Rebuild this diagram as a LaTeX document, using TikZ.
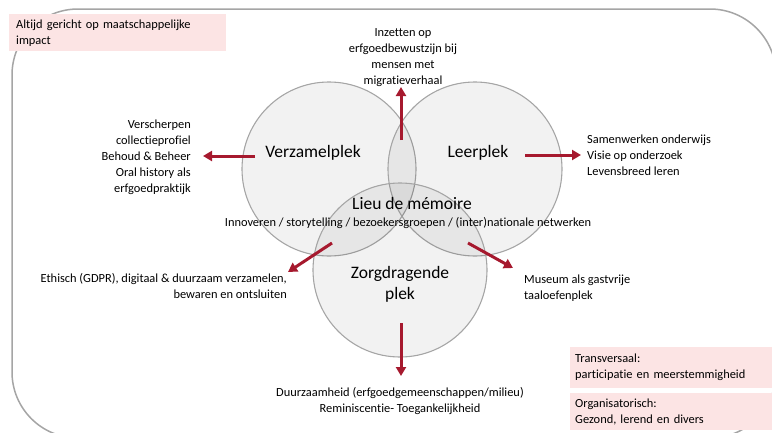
\documentclass[tikz,border=0pt]{standalone}
\usepackage{fontspec}
\setmainfont{Carlito}[Ligatures=NoCommon]
\frenchspacing
\usetikzlibrary{arrows.meta}
\definecolor{arrowred}{RGB}{166,25,46}
\definecolor{pinkfill}{RGB}{252,228,228}
\definecolor{rimgray}{RGB}{165,165,165}
\tikzset{
  small/.style={font=\fontsize{12.4}{16}\selectfont, inner sep=0pt},
  big/.style={font=\fontsize{17.5}{21}\selectfont, inner sep=0pt, align=center},
  venn/.style={circle, draw=rimgray, line width=1.1pt, fill=black, fill opacity=0.05, draw opacity=1, minimum size=174pt, inner sep=0pt},
  redarrow/.style={draw=arrowred, line width=3pt, -{Triangle[length=9pt,width=10pt]}},
  pinkbox/.style={fill=pinkfill, anchor=north west, inner xsep=7pt, inner ysep=0pt, align=left, font=\fontsize{12.4}{16}\selectfont},
}
\begin{document}
\begin{tikzpicture}[x=1pt,y=-1pt]
\useasboundingbox (0,0) rectangle (772,432);
% outer frame
\draw[rimgray, line width=1.5pt, rounded corners=66pt] (12,9) rectangle (776,438);
% pink boxes
\node[pinkbox, text width=203pt, minimum height=37pt] (impact) at (9,14) {Altijd gericht op maatschappelijke\\impact};
\node[pinkbox, inner xsep=5pt, text width=192pt, minimum height=41pt] (trans) at (570,347) {Transversaal:\\participatie en meerstemmigheid};
\node[pinkbox, inner xsep=5pt, text width=192pt, minimum height=37pt] (org) at (570,393) {Organisatorisch:\\Gezond, lerend en divers};
% circles
\node[venn] (cV) at (329,169) {};
\node[venn] (cL) at (475,169) {};
\node[venn] (cZ) at (400,270) {};
% circle labels
\node[big] (tV) at (313,153) {Verzamelplek};
\node[big] (tL) at (478,153) {Leerplek};
\node[big] (tZ) at (400,284) {Zorgdragende\\plek};
\node[big] (tM) at (412,203) {Lieu de mémoire};
\node[small] (tSub) at (408,223) {Innoveren / storytelling / bezoekersgroepen / (inter)nationale netwerken};
% outer texts
\node[small, align=center] (top) at (403,58) {Inzetten op\\erfgoedbewustzijn bij\\mensen met\\migratieverhaal};
\node[small, align=right, anchor=east] (left) at (191,157) {Verscherpen\\collectieprofiel\\Behoud \& Beheer\\Oral history als\\erfgoedpraktijk};
\node[small, align=left, anchor=west] (right) at (587,155) {Samenwerken onderwijs\\Visie op onderzoek\\Levensbreed leren};
\node[small, align=right, anchor=east] (ll) at (287,286) {Ethisch (GDPR), digitaal \& duurzaam verzamelen,\\bewaren en ontsluiten};
\node[small, align=left, anchor=west] (lr) at (524,288) {Museum als gastvrije\\taaloefenplek};
\node[small, align=center] (bottom) at (400,401) {Duurzaamheid (erfgoedgemeenschappen/milieu)\\Reminiscentie- Toegankelijkheid};
% arrow coordinates
\coordinate (aTs) at (401,140);
\coordinate (aTe) at (401,87);
\coordinate (aLs) at (255,156);
\coordinate (aLe) at (203,156);
\coordinate (aRs) at (525,155);
\coordinate (aRe) at (581,155);
\coordinate (aLLs) at (332,243);
\coordinate (aLLe) at (288,272);
\coordinate (aLRs) at (468,243);
\coordinate (aLRe) at (513,268);
\coordinate (aBs) at (401,323);
\coordinate (aBe) at (401,376);
\draw[redarrow] (aTs) -- (aTe);
\draw[redarrow] (aLs) -- (aLe);
\draw[redarrow] (aRs) -- (aRe);
\draw[redarrow] (aLLs) -- (aLLe);
\draw[redarrow] (aLRs) -- (aLRe);
\draw[redarrow] (aBs) -- (aBe);
\end{tikzpicture}
\end{document}
